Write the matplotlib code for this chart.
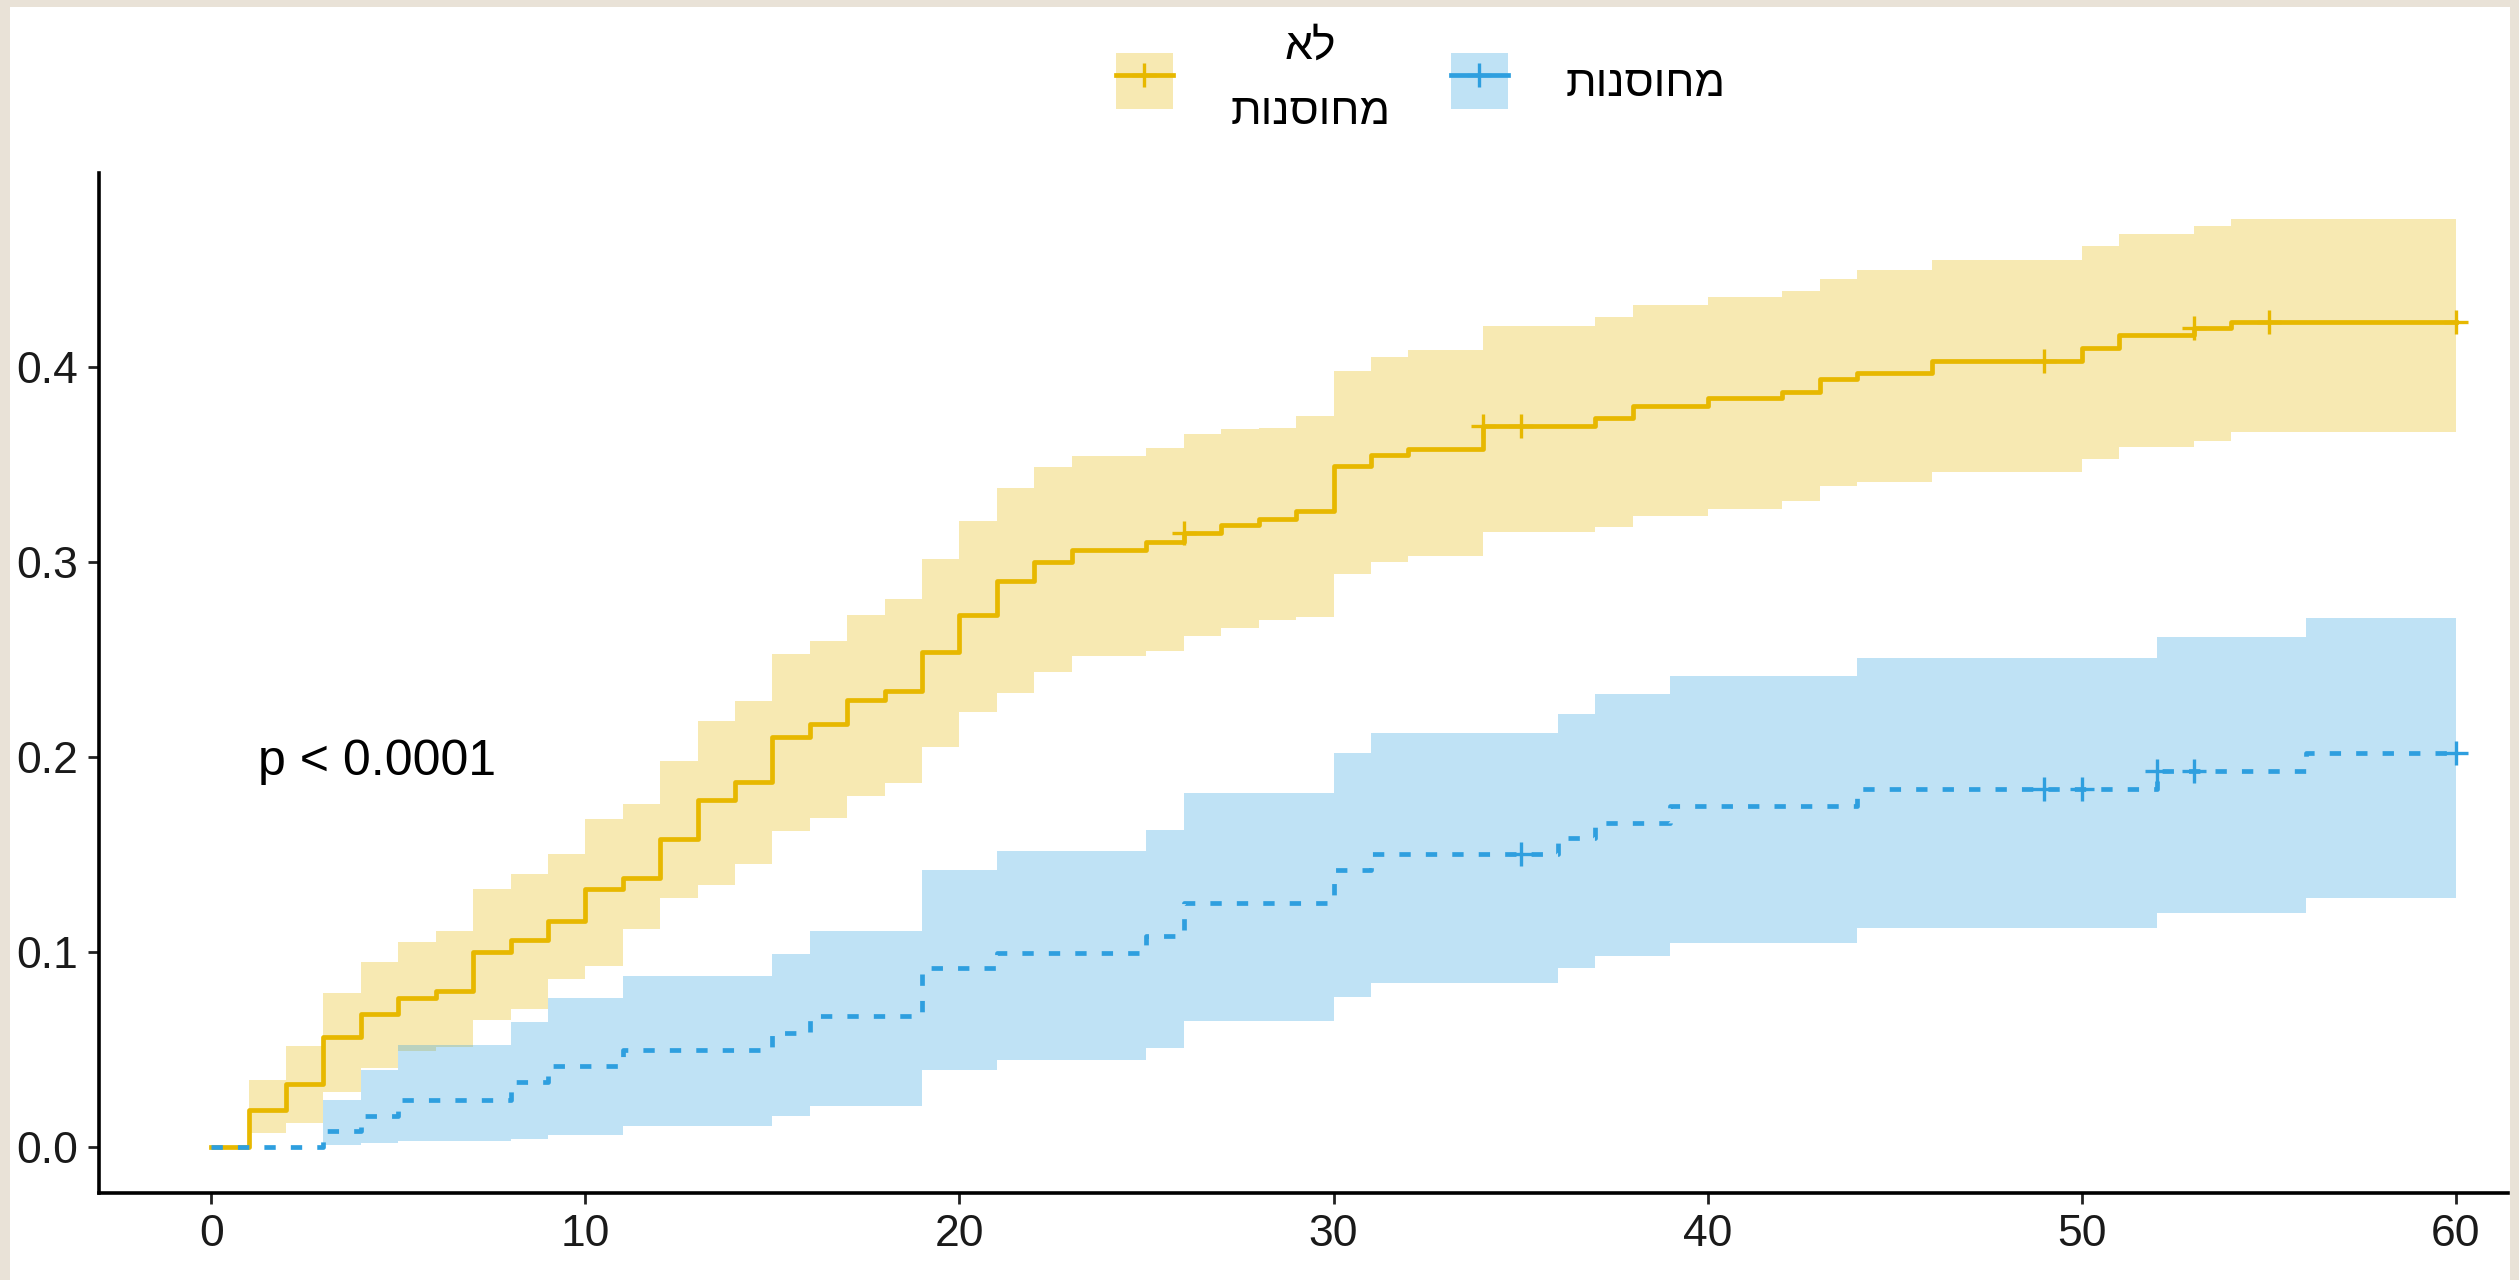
#! /usr/bin/python3
# Cumulative incidence (KM style) for vaccinated vs unvaccinated, with CI bands

import numpy as np
import matplotlib.pyplot as plt
from matplotlib.patches import Patch, Rectangle
from matplotlib.lines import Line2D
from matplotlib.legend_handler import HandlerTuple

# ---- data ----
# unvaccinated (yellow) -- step times, value after step, CI upper / lower
unvax_time = [0, 1, 2, 3, 4, 5, 6, 7, 8, 9, 10, 11, 12, 13, 14, 15, 16, 17, 18, 19, 20,
              21, 22, 23, 25, 26, 27, 28, 29, 30, 31, 32, 34, 37, 38, 40, 42, 43, 44, 46,
              50, 51, 53, 54]
unvax_est = [0, 0.019, 0.032, 0.056, 0.068, 0.0765, 0.080, 0.100, 0.106, 0.116, 0.132,
             0.138, 0.158, 0.178, 0.187, 0.210, 0.217, 0.229, 0.234, 0.254, 0.273, 0.290,
             0.300, 0.306, 0.310, 0.315, 0.319, 0.322, 0.326, 0.349, 0.355, 0.358, 0.370,
             0.374, 0.380, 0.384, 0.387, 0.394, 0.397, 0.403, 0.410, 0.4165, 0.420, 0.423]
unvax_upper = [0, 0.034, 0.0515, 0.079, 0.0945, 0.105, 0.1106, 0.132, 0.140, 0.150, 0.168,
               0.1756, 0.198, 0.2185, 0.2287, 0.2527, 0.2596, 0.273, 0.281, 0.3015, 0.321,
               0.338, 0.3486, 0.3546, 0.3583, 0.3655, 0.368, 0.369, 0.375, 0.398, 0.405,
               0.409, 0.421, 0.4256, 0.432, 0.436, 0.4393, 0.4453, 0.4496, 0.4552, 0.462,
               0.4684, 0.4723, 0.4758]
unvax_lower = [0, 0.007, 0.0123, 0.028, 0.0405, 0.049, 0.051, 0.065, 0.0704, 0.0858,
               0.0926, 0.1115, 0.1277, 0.134, 0.145, 0.162, 0.1688, 0.180, 0.1868, 0.205,
               0.223, 0.233, 0.2434, 0.2518, 0.2544, 0.262, 0.266, 0.270, 0.272, 0.2938,
               0.2998, 0.3032, 0.3152, 0.318, 0.3237, 0.3272, 0.3314, 0.339, 0.3409, 0.3463,
               0.3528, 0.3588, 0.3623, 0.3666]
unvax_censor = [26, 34, 35, 49, 53, 55, 60]

# vaccinated (blue)
vax_time = [0, 3, 4, 5, 8, 9, 11, 15, 16, 19, 21, 25, 26, 30, 31, 36, 37, 39, 44, 52, 56]
vax_est = [0, 0.008, 0.0156, 0.024, 0.033, 0.0413, 0.0495, 0.0585, 0.0668, 0.0915, 0.0995,
           0.108, 0.125, 0.142, 0.150, 0.1585, 0.166, 0.1748, 0.1837, 0.1925, 0.2022]
vax_upper = [0, 0.024, 0.0395, 0.052, 0.064, 0.0765, 0.0875, 0.0986, 0.1106, 0.142, 0.1517,
             0.1625, 0.1817, 0.202, 0.212, 0.222, 0.232, 0.2416, 0.2505, 0.2613, 0.2715]
vax_lower = [0, 0.001, 0.002, 0.003, 0.004, 0.006, 0.0104, 0.0156, 0.0207, 0.0395, 0.0447,
             0.0507, 0.0644, 0.077, 0.084, 0.0917, 0.0977, 0.1046, 0.1123, 0.120, 0.1277]
vax_censor = [35, 49, 50, 52, 53, 60]

t_end = 60
x_ticks = [0, 10, 20, 30, 40, 50, 60]
y_ticks = [0.0, 0.1, 0.2, 0.3, 0.4]
legend_labels = ['לא\nמחוסנות', 'מחוסנות']
pval_text = 'p < 0.0001'

# ---- style ----
YELLOW = '#E7B800'
BLUE = '#2E9FDF'
LW = 3.4
DASH = (0, (2.4, 3.2))
FS = 32

plt.rcParams['font.family'] = ['Liberation Sans', 'DejaVu Sans']


def rtl(s):
    # matplotlib has no bidi support, so reverse each Hebrew line for display
    return '\n'.join(line[::-1] for line in s.split('\n'))


def extend(time, vals):
    # step arrays need an end point at t_end
    return np.array(time + [t_end], float), np.array(vals + [vals[-1]], float)


def censor_y(time, vals, cens):
    idx = np.searchsorted(time, cens, side='right') - 1
    return np.array(vals)[idx]


def draw_curve(ax, time, est, up, lo, cens, color, ls):
    t, e = extend(time, est)
    _, u = extend(time, up)
    _, l = extend(time, lo)
    ax.fill_between(t, l, u, step='post', color=color, alpha=0.3, lw=0, zorder=1)
    ax.step(t, e, where='post', color=color, lw=LW, ls=ls, zorder=3)
    ax.plot(cens, censor_y(time, est, cens), ls='none', marker='+', ms=17, mew=2.4,
            color=color, zorder=4)


def main():

    fig = plt.figure(figsize=(25.19, 12.80), dpi=100, facecolor='#e9e2d7')
    # white sheet inside the beige frame
    fig.patches.append(Rectangle((10 / 2519, 0), 2500 / 2519, 1273 / 1280,
                                 transform=fig.transFigure, facecolor='white',
                                 edgecolor='none', zorder=-10))

    ax = fig.add_axes([99 / 2519, 87 / 1280, 2469 / 2519, 1020 / 1280])
    ax.set_facecolor('none')

    draw_curve(ax, unvax_time, unvax_est, unvax_upper, unvax_lower, unvax_censor, YELLOW, '-')
    draw_curve(ax, vax_time, vax_est, vax_upper, vax_lower, vax_censor, BLUE, DASH)

    ax.text(1.25, 0.1905, pval_text, fontsize=36, ha='left', va='baseline', color='black')

    ax.set_xlim(-3, 63)
    ax.set_ylim(-0.0238, 0.4996)
    ax.set_xticks(x_ticks)
    ax.set_yticks(y_ticks)
    ax.set_yticklabels(['%.1f' % v for v in y_ticks])

    for side in ['top', 'right']:
        ax.spines[side].set_visible(False)
    for side in ['left', 'bottom']:
        ax.spines[side].set_linewidth(2.6)
        ax.spines[side].set_color('black')
    ax.spines['bottom'].set_bounds(-3, 61.4)

    ax.tick_params(axis='both', length=8, width=2.0, color='#222222', labelsize=FS,
                   labelcolor='#1a1a1a', pad=7)

    # legend: ribbon patch + line with censor mark, like survminer
    h_unvax = (Patch(facecolor=YELLOW, alpha=0.3, edgecolor='none'),
               Line2D([], [], color=YELLOW, lw=LW, marker='+', ms=17, mew=2.4))
    h_vax = (Patch(facecolor=BLUE, alpha=0.3, edgecolor='none'),
             Line2D([], [], color=BLUE, lw=LW, marker='+', ms=17, mew=2.4))
    leg = ax.legend(handles=[h_unvax, h_vax], labels=[rtl(s) for s in legend_labels],
                    ncol=2, loc='center', bbox_to_anchor=(0.564, 0.9375),
                    bbox_transform=fig.transFigure, frameon=False, fontsize=FS,
                    handlelength=1.28, handleheight=1.56, handletextpad=1.3,
                    columnspacing=1.35, handler_map={tuple: HandlerTuple(ndivide=1)})
    for t in leg.get_texts():
        t.set_multialignment('center')
        t.set_linespacing(1.75)

    fig.savefig('out.png', dpi=100, facecolor=fig.get_facecolor())


if __name__ == "__main__":

    main()
